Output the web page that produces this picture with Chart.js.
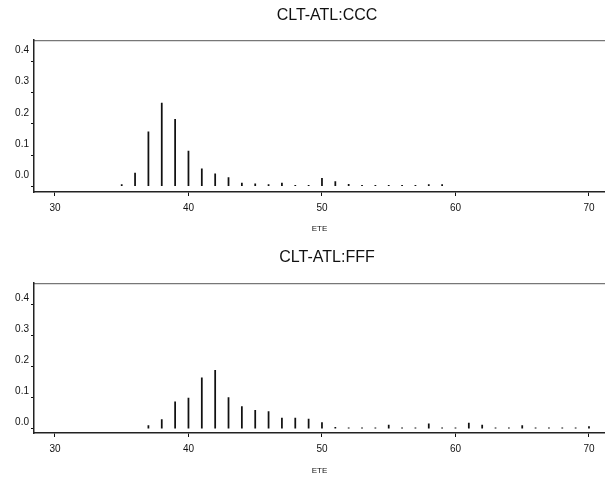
<!DOCTYPE html>
<html>
<head>
<meta charset="utf-8">
<script src="https://cdn.jsdelivr.net/npm/chart.js@4"></script>
<style>
  html, body { margin: 0; padding: 0; background: #fff; overflow: hidden; }
  body { width: 605px; height: 485px; position: relative; }
  canvas { position: absolute; left: 0; }
  #chartTop { top: 0; }
  #chartBottom { top: 243px; }
</style>
</head>
<body>
<canvas id="chartTop" width="654" height="243"></canvas>
<canvas id="chartBottom" width="654" height="242"></canvas>
<script>
// CLT-ATL:CCC
const cccEte = [35, 36, 37, 38, 39, 40, 41, 42, 43, 44, 45, 46, 47, 48, 49, 50, 51, 52, 53, 54, 55, 56, 57, 58, 59];
const cccShare = [0.005, 0.042, 0.174, 0.266, 0.214, 0.113, 0.056, 0.040, 0.028, 0.010, 0.008, 0.005, 0.010, 0.003, 0.003,
                  0.025, 0.015, 0.006, 0.003, 0.003, 0.003, 0.003, 0.003, 0.005, 0.005];

// CLT-ATL:FFF
const fffEte = [37, 38, 39, 40, 41, 42, 43, 44, 45, 46, 47, 48, 49, 50, 51, 52, 53, 54, 55, 56, 57, 58, 59, 60,
                61, 62, 63, 64, 65, 66, 67, 68, 69, 70];
const fffShare = [0.010, 0.029, 0.086, 0.098, 0.163, 0.187, 0.100, 0.071, 0.059, 0.055, 0.034, 0.034, 0.031, 0.020,
                  0.004, 0.003, 0.003, 0.003, 0.012, 0.003, 0.003, 0.016, 0.003, 0.003,
                  0.018, 0.012, 0.003, 0.003, 0.010, 0.003, 0.003, 0.003, 0.003, 0.007];

const xTicks = [30, 40, 50, 60, 70];
const yTicks = [0.0, 0.1, 0.2, 0.3, 0.4];

const FONT = 'Arial, "Liberation Sans", Helvetica, sans-serif';

// the title is centred on the whole (wider) canvas, not only the padded part
const wideTitle = {
  id: 'wideTitle',
  afterLayout(chart) {
    if (chart.titleBlock) chart.titleBlock.right = chart.width;
  }
};

function makeChart(id, title, ete, share, cfg) {
  const ctx = document.getElementById(id).getContext('2d');
  return new Chart(ctx, {
    type: 'bar',
    data: {
      datasets: [{
        data: ete.map((x, i) => ({ x: x, y: share[i] })),
        backgroundColor: '#111',
        barThickness: 1.1,
        borderWidth: 0
      }]
    },
    plugins: [wideTitle],
    options: {
      responsive: false,
      animation: false,
      layout: { padding: { left: 0, right: 49, top: 0, bottom: 0 } },
      plugins: {
        legend: { display: false },
        tooltip: { enabled: false },
        title: {
          display: true,
          text: title,
          color: '#111',
          font: { family: FONT, size: 16, weight: 'normal' },
          padding: { top: cfg.titleTop, bottom: cfg.titleBottom }
        }
      },
      scales: {
        x: {
          type: 'linear',
          position: 'bottom',
          offset: false,
          min: 28.43,
          max: 71.2,
          afterBuildTicks: s => { s.ticks = xTicks.map(v => ({ value: v })); },
          afterFit: s => { s.height = cfg.xHeight; },
          grid: { offset: false, drawOnChartArea: false, tickLength: 4, color: '#111', lineWidth: 1 },
          border: { display: true, color: '#222', width: 1.5 },
          ticks: { color: '#111', font: { family: FONT, size: 10 }, padding: 6, maxRotation: 0 },
          title: {
            display: true, text: 'ETE', color: '#111',
            font: { family: FONT, size: 8 }, padding: { top: 0, bottom: 9 }
          }
        },
        xTop: {
          type: 'linear',
          position: 'top',
          offset: false,
          min: 28.43,
          max: 71.2,
          afterFit: s => { s.height = 0; },
          grid: { display: false },
          border: { display: true, color: '#777', width: 1.3 },
          ticks: { display: false }
        },
        y: {
          type: 'linear',
          min: cfg.yMin,
          max: cfg.yMax,
          afterBuildTicks: s => { s.ticks = yTicks.map(v => ({ value: v })); },
          afterFit: s => { s.width = 34; },
          grid: { drawOnChartArea: false, tickLength: 3, color: '#111', lineWidth: 1 },
          border: { display: true, color: '#222', width: 1.5 },
          ticks: {
            color: '#111',
            font: { family: FONT, size: 10 },
            padding: 2,
            labelOffset: cfg.labelOffset,
            callback: v => Number(v).toFixed(1)
          }
        }
      }
    }
  });
}

makeChart('chartTop', 'CLT-ATL:CCC', cccEte, cccShare,
  { titleTop: 6, titleBottom: 15, xHeight: 51, yMin: -0.0184, yMax: 0.4677, labelOffset: -11 });
makeChart('chartBottom', 'CLT-ATL:FFF', fffEte, fffShare,
  { titleTop: 5, titleBottom: 16, xHeight: 52, yMin: -0.0138, yMax: 0.467, labelOffset: -6 });
</script>
</body>
</html>
